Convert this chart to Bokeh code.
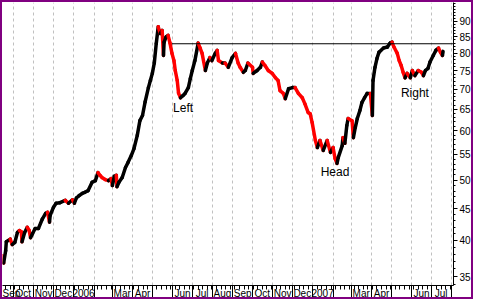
import numpy as np
from bokeh.plotting import figure
from bokeh.models import Range1d, FixedTicker, LinearAxis, PrintfTickFormatter, ColumnDataSource
from bokeh.core.properties import value
from bokeh.embed import file_html
from bokeh.resources import INLINE

# ---------------- data ----------------
dates = [
    "2005-09-14", "2005-09-16", "2005-09-19", "2005-09-20", "2005-09-26", "2005-09-29",
    "2005-10-03", "2005-10-07", "2005-10-10", "2005-10-13", "2005-10-14", "2005-10-18", "2005-10-22", "2005-10-25", "2005-10-27", "2005-10-30",
    "2005-11-03", "2005-11-08", "2005-11-14", "2005-11-19", "2005-11-22", "2005-11-25", "2005-11-26",
    "2005-12-01", "2005-12-05", "2005-12-11", "2005-12-19", "2005-12-24", "2005-12-30",
    "2006-01-02", "2006-01-05", "2006-01-09", "2006-01-14", "2006-01-18", "2006-01-23", "2006-01-29",
    "2006-02-03", "2006-02-07", "2006-02-10", "2006-02-13", "2006-02-18", "2006-02-23", "2006-02-27",
    "2006-03-01", "2006-03-04", "2006-03-07", "2006-03-08", "2006-03-11", "2006-03-16", "2006-03-21", "2006-03-25", "2006-03-30",
    "2006-04-03", "2006-04-08", "2006-04-12", "2006-04-16", "2006-04-20", "2006-04-25", "2006-04-28",
    "2006-05-01", "2006-05-04", "2006-05-07", "2006-05-10", "2006-05-13", "2006-05-16", "2006-05-18", "2006-05-19", "2006-05-22", "2006-05-25", "2006-05-28", "2006-05-31",
    "2006-06-03", "2006-06-05", "2006-06-08", "2006-06-10", "2006-06-13", "2006-06-17", "2006-06-20", "2006-06-25", "2006-06-28",
    "2006-07-01", "2006-07-05", "2006-07-10", "2006-07-13", "2006-07-16", "2006-07-21", "2006-07-24", "2006-07-28", "2006-07-31",
    "2006-08-05", "2006-08-08", "2006-08-10", "2006-08-16", "2006-08-20", "2006-08-25", "2006-08-31",
    "2006-09-05", "2006-09-09", "2006-09-12", "2006-09-17", "2006-09-20", "2006-09-24",
    "2006-10-01", "2006-10-02", "2006-10-08", "2006-10-13", "2006-10-16", "2006-10-20", "2006-10-25", "2006-10-31",
    "2006-11-05", "2006-11-09", "2006-11-12", "2006-11-17", "2006-11-20", "2006-11-25",
    "2006-12-01", "2006-12-05", "2006-12-10", "2006-12-16", "2006-12-20", "2006-12-25", "2006-12-28", "2006-12-31",
    "2007-01-05", "2007-01-08", "2007-01-12", "2007-01-17", "2007-01-23", "2007-01-28",
    "2007-02-01", "2007-02-04", "2007-02-07", "2007-02-09", "2007-02-15", "2007-02-16", "2007-02-19", "2007-02-22", "2007-02-24",
    "2007-03-02", "2007-03-04", "2007-03-07", "2007-03-10", "2007-03-14", "2007-03-17", "2007-03-21", "2007-03-25", "2007-03-30",
    "2007-04-02", "2007-04-03", "2007-04-06", "2007-04-09", "2007-04-12", "2007-04-19", "2007-04-25", "2007-04-29",
    "2007-05-02", "2007-05-05", "2007-05-10", "2007-05-13", "2007-05-16", "2007-05-19", "2007-05-22", "2007-05-25", "2007-05-30",
    "2007-06-02", "2007-06-06", "2007-06-11", "2007-06-16", "2007-06-19", "2007-06-22", "2007-06-26", "2007-06-29",
    "2007-07-04", "2007-07-08", "2007-07-12", "2007-07-15", "2007-07-18", "2007-07-19",
]
prices = [
    37.8, 36.8, 38.5, 39.8, 40.2, 39.4,
    39.7, 41.2, 41.5, 41.3, 39.8, 41.2, 42.0, 41.5, 40.4, 41.0,
    41.8, 41.8, 43.3, 44.2, 44.4, 42.8, 43.9,
    45.2, 45.9, 46.0, 46.4, 45.9, 46.5,
    45.9, 46.8, 47.2, 47.6, 47.8, 48.1, 49.6,
    49.9, 51.4, 50.9, 50.5, 50.1, 49.9, 50.3,
    49.0, 50.7, 50.9, 48.8, 49.6, 50.5, 52.4, 53.4, 54.8,
    56.2, 59.0, 62.3, 63.5, 66.8, 70.4, 72.3,
    74.2, 77.1, 82.9, 88.2, 86.0, 87.0, 79.3, 83.3, 84.9, 85.4, 83.0, 79.9,
    77.8, 75.0, 72.3, 69.0, 67.8, 68.4, 68.9, 70.4, 72.8,
    75.0, 77.8, 83.0, 81.5, 79.9, 75.0, 77.1, 78.7, 77.8,
    79.9, 80.8, 77.8, 77.1, 77.1, 75.9, 78.7,
    79.9, 77.1, 75.9, 74.5, 75.0, 77.1,
    75.9, 74.2, 75.0, 75.9, 77.4, 76.4, 75.0, 74.2,
    73.0, 72.3, 69.6, 68.9, 67.6, 70.1,
    70.4, 70.4, 68.9, 67.8, 66.3, 64.2, 63.9, 61.9,
    57.9, 56.4, 57.9, 55.8, 57.9, 55.4,
    56.4, 54.2, 53.2, 54.4, 56.8, 58.5, 57.3, 61.2, 62.8,
    62.3, 58.5, 60.8, 62.8, 64.7, 66.6, 67.8, 68.9, 68.9,
    63.5, 72.3, 75.9, 78.4, 80.2, 81.5, 81.8, 83.0,
    83.3, 81.8, 79.9, 77.8, 76.4, 74.5, 73.0, 74.2, 73.0,
    75.0, 73.6, 75.0, 74.5, 73.6, 75.0, 75.6, 77.4,
    79.3, 80.8, 81.5, 80.2, 79.3, 80.5,
]

neckline_start = "2006-05-31"
neckline_end = "2007-08-03"
neckline_level = 82.8

pattern_labels = ["Left", "Head", "Right"]
pattern_dates = ["2006-06-17", "2007-02-04", "2007-06-06"]
pattern_prices = [65.4, 51.6, 69.1]

y_ticks = [35, 40, 45, 50, 55, 60, 65, 70, 75, 80, 85, 90]

month_labels = {
    "2005-09": "Sep", "2005-10": "Oct", "2005-11": "Nov", "2005-12": "Dec",
    "2006-01": "2006", "2006-03": "Mar", "2006-04": "Apr", "2006-06": "Jun",
    "2006-07": "Jul", "2006-08": "Aug", "2006-09": "Sep", "2006-10": "Oct",
    "2006-11": "Nov", "2006-12": "Dec", "2007-01": "2007", "2007-03": "Mar",
    "2007-04": "Apr", "2007-06": "Jun", "2007-07": "Jul",
}

# ---------------- helpers ----------------
EPOCH = np.datetime64("1970-01-01", "D")


def day(s):
    return int((np.datetime64(s, "D") - EPOCH).astype(int))


xd = np.array([day(d) for d in dates])
yp = np.array(prices, dtype=float)

months = np.arange(np.datetime64("2005-09"), np.datetime64("2007-10"), dtype="datetime64[M]")
month_starts = [int((m.astype("datetime64[D]") - EPOCH).astype(int)) for m in months]
label_pos = []
label_map = {}
for i, m in enumerate(months[:-1]):
    key = str(m)
    if key in month_labels:
        c = (month_starts[i] + month_starts[i + 1]) // 2
        label_pos.append(c)
        label_map[c] = month_labels[key]

weekly = list(range(day("2005-09-05"), day("2007-08-31"), 7))

# ---------------- figure ----------------
x0 = day("2005-10-01")
p = figure(
    width=473, height=299,
    x_range=Range1d(x0 - 16.8, x0 + 671.9),
    y_range=Range1d(33.86, 96.45),
    y_axis_type="log", y_axis_location="right",
    output_backend="svg", toolbar_location=None,
    min_border_left=0, min_border_top=0, min_border_right=22, min_border_bottom=16,
    background_fill_color="white", border_fill_color="white",
)
p.styles = {"border": "2px solid #800080"}
p.outline_line_color = None

FONT = "Liberation Sans"

# bottom axis 1: axis line + month separators (drawn downward, no size)
xa = p.xaxis[0]
xa.ticker = FixedTicker(ticks=[], minor_ticks=month_starts)
xa.major_tick_out = 0
xa.major_tick_in = 0
xa.major_tick_line_color = None
xa.minor_tick_line_color = "black"
xa.minor_tick_out = 0
xa.minor_tick_in = -15
xa.major_label_standoff = 0
xa.axis_line_color = "black"

# bottom axis 2: weekly ticks + month labels
xl = LinearAxis(
    ticker=FixedTicker(ticks=label_pos, minor_ticks=weekly),
    major_label_overrides=label_map,
    axis_line_color=None,
    major_tick_line_color=None, major_tick_out=0, major_tick_in=0,
    minor_tick_line_color="black", minor_tick_in=-4, minor_tick_out=0,
    major_label_standoff=2,
    major_label_text_font=FONT, major_label_text_font_size="10px",
    major_label_text_color="black",
)
p.add_layout(xl, "below")

# right price axis
ya = p.yaxis[0]
ya.ticker = FixedTicker(ticks=y_ticks, minor_ticks=list(range(33, 97)))
ya.formatter = PrintfTickFormatter(format="%d")
ya.major_tick_out = 4
ya.major_tick_in = 0
ya.minor_tick_out = 2
ya.minor_tick_in = 0
ya.major_label_standoff = 2
ya.major_label_text_font = FONT
ya.major_label_text_font_size = "10px"
ya.major_label_text_color = "black"
ya.axis_line_color = "black"
ya.major_tick_line_color = "black"
ya.minor_tick_line_color = "black"

p.xgrid.ticker = FixedTicker(ticks=month_starts)
p.xgrid.grid_line_color = "#c0c0c0"
p.xgrid.grid_line_dash = "3 3"
p.ygrid.visible = False

# price path: black when rising, red when falling
colors = np.where(yp[1:] < yp[:-1], "#ff0000", "#000000")
src = ColumnDataSource(dict(x0=xd[:-1], y0=yp[:-1], x1=xd[1:], y1=yp[1:], color=colors))
p.segment("x0", "y0", "x1", "y1", source=src, line_color="color", line_width=3.5, line_cap="round")

# resistance / neckline
p.line(x=[day(neckline_start), day(neckline_end)], y=[neckline_level, neckline_level],
       line_color="black", line_width=1)

# pattern labels
p.text(x=[day(d) for d in pattern_dates], y=pattern_prices, text=pattern_labels,
       text_font=value(FONT), text_font_size="12px", text_color="black",
       text_align="center", text_baseline="middle")

open("out.html", "w").write(file_html(p, INLINE))
